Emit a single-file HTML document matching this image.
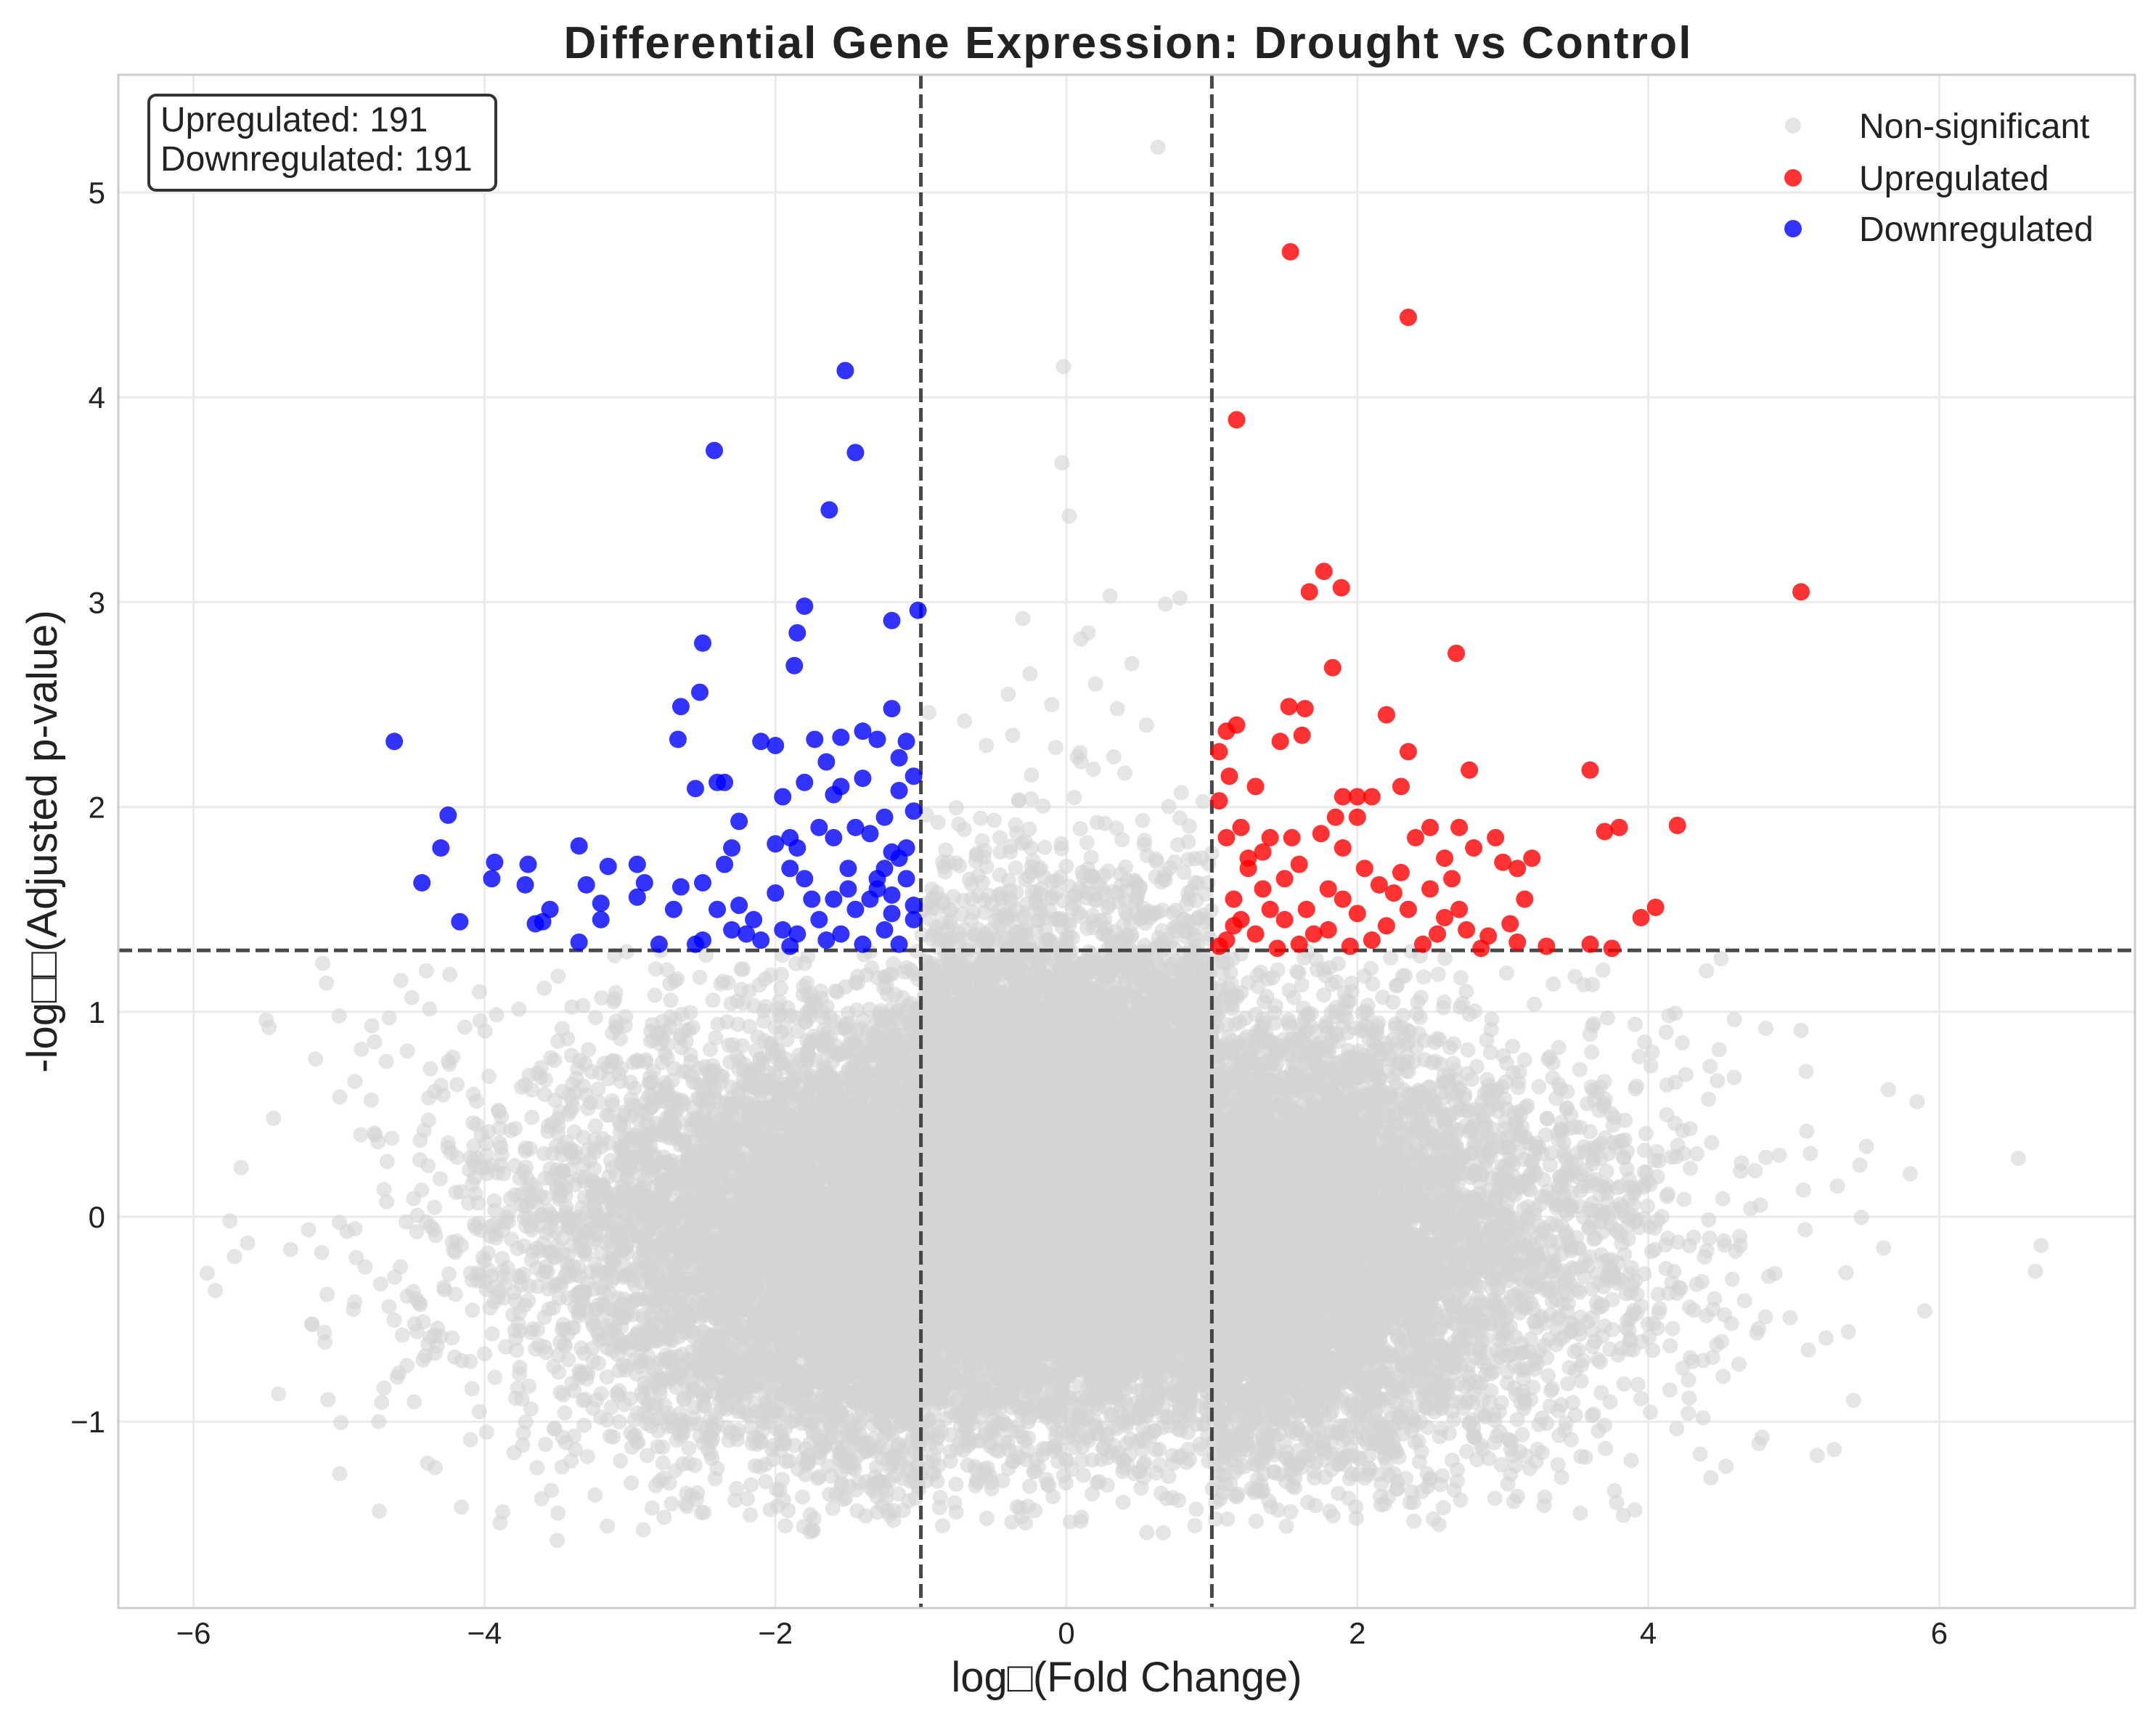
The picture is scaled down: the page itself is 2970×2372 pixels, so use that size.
<!DOCTYPE html>
<html><head><meta charset="utf-8"><style>
html,body{margin:0;padding:0;background:#fff;}
svg{display:block;font-family:"Liberation Sans","DejaVu Sans",sans-serif;}
</style></head><body>
<svg id="chart" width="2970" height="2372" viewBox="0 0 2970 2372" xmlns="http://www.w3.org/2000/svg">
<rect width="2970" height="2372" fill="#fff"/>
<g id="grid"></g>
<g id="grey"></g>
<g id="thresh"></g>
<g id="red"></g>
<g id="blue"></g>
<rect x="163" y="103" width="2778" height="2112" fill="none" stroke="#cccccc" stroke-width="3"/>
<g id="xticks"></g>
<g id="yticks"></g>
<text x="1553" y="80" text-anchor="middle" font-size="62" font-weight="bold" fill="#222" textLength="1553" lengthAdjust="spacing">Differential Gene Expression: Drought vs Control</text>
<text x="1552" y="2330" text-anchor="middle" font-size="58" fill="#222">log□(Fold Change)</text>
<text transform="translate(78,1159) rotate(-90)" text-anchor="middle" font-size="58" fill="#222">-log□□(Adjusted p-value)</text>
<g>
<rect x="205" y="131" width="478" height="131" rx="10" fill="#fff" stroke="#333" stroke-width="4"/>
<text x="221" y="181" font-size="48" fill="#222">Upregulated: 191</text>
<text x="221" y="235" font-size="48" fill="#222">Downregulated: 191</text>
</g>
<g>
<g><circle cx="2470" cy="173" r="11" fill="#d3d3d3" fill-opacity="0.6"/><text x="2561" y="190" font-size="48" fill="#222">Non-significant</text></g>
<g><circle cx="2470" cy="245" r="12" fill="red" fill-opacity="0.8"/><text x="2561" y="262" font-size="48" fill="#222">Upregulated</text></g>
<g><circle cx="2470" cy="315" r="12" fill="blue" fill-opacity="0.8"/><text x="2561" y="332" font-size="48" fill="#222">Downregulated</text></g>
</g>
</svg>
<script>
const xTicks=[-6,-4,-2,0,2,4,6];
const yTicks=[-1,0,1,2,3,4,5];
const fcThreshold=1;
const pThreshold=1.3;
const upX=[1.54,2.35,1.17,5.05,1.77,1.89,1.67,2.68,1.83,1.53,1.64,2.2,1.17,1.1,1.62,1.47,1.05,2.35,3.6,2.77,1.12,1.3,2.3,1.05,1.9,2.0,2.1,4.2,3.8,3.7,2.95,2.7,2.5,1.2,1.4,1.55,1.75,2.4,2.8,1.1,1.9,2.6,3.2,3.0,3.1,1.25,1.6,2.05,2.3,1.5,1.35,2.15,1.8,2.5,1.15,3.15,1.9,4.05,1.4,2.7,2.35,1.65,2.0,3.95,2.6,1.2,1.5,3.05,2.2,1.8,2.75,1.3,2.9,1.1,3.3,3.6,3.75,1.05,2.45,1.6,2.1,1.95,2.85,1.45,3.1,1.7,2.55,1.25,1.85,2.25,1.35,2.0,1.15,2.65];
const upY=[4.71,4.39,3.89,3.05,3.15,3.07,3.05,2.75,2.68,2.49,2.48,2.45,2.4,2.37,2.35,2.32,2.27,2.27,2.18,2.18,2.15,2.1,2.1,2.03,2.05,2.05,2.05,1.91,1.9,1.88,1.85,1.9,1.9,1.9,1.85,1.85,1.87,1.85,1.8,1.85,1.8,1.75,1.75,1.73,1.7,1.7,1.72,1.7,1.68,1.65,1.6,1.62,1.6,1.6,1.55,1.55,1.55,1.51,1.5,1.5,1.5,1.5,1.48,1.46,1.46,1.45,1.45,1.43,1.42,1.4,1.4,1.38,1.37,1.35,1.32,1.33,1.31,1.32,1.33,1.33,1.35,1.32,1.31,1.31,1.34,1.38,1.38,1.75,1.95,1.58,1.78,1.95,1.42,1.65];
const downX=[-1.52,-2.42,-1.45,-1.63,-1.8,-1.02,-1.2,-1.85,-2.5,-1.87,-2.52,-2.65,-1.2,-4.62,-2.67,-2.1,-2.0,-1.73,-1.55,-1.4,-1.3,-1.1,-1.65,-1.15,-2.4,-2.35,-1.8,-2.55,-1.55,-1.6,-1.4,-1.05,-1.15,-1.95,-4.25,-1.7,-2.25,-1.25,-1.45,-1.05,-4.3,-3.35,-2.0,-1.9,-1.6,-1.35,-2.3,-1.85,-1.2,-1.1,-3.93,-3.7,-2.95,-3.15,-1.25,-1.5,-1.9,-2.35,-3.95,-3.72,-2.9,-2.65,-2.5,-1.8,-1.3,-1.1,-4.43,-3.3,-3.55,-3.6,-3.65,-4.17,-2.95,-3.2,-2.0,-2.7,-2.25,-1.6,-1.35,-1.2,-1.05,-3.2,-2.4,-2.15,-1.7,-1.05,-1.45,-2.3,-1.95,-1.55,-1.25,-3.35,-2.8,-2.5,-2.1,-1.65,-1.15,-1.4,-1.9,-2.55,-1.85,-2.2,-1.15,-1.3,-1.5,-1.75,-1.2];
const downY=[4.13,3.74,3.73,3.45,2.98,2.96,2.91,2.85,2.8,2.69,2.56,2.49,2.48,2.32,2.33,2.32,2.3,2.33,2.34,2.37,2.33,2.32,2.22,2.24,2.12,2.12,2.12,2.09,2.1,2.06,2.14,2.15,2.08,2.05,1.96,1.9,1.93,1.95,1.9,1.98,1.8,1.81,1.82,1.85,1.85,1.87,1.8,1.8,1.78,1.8,1.73,1.72,1.72,1.71,1.7,1.7,1.7,1.72,1.65,1.62,1.63,1.61,1.63,1.65,1.65,1.65,1.63,1.62,1.5,1.44,1.43,1.44,1.56,1.53,1.58,1.5,1.52,1.55,1.55,1.57,1.52,1.45,1.5,1.45,1.45,1.45,1.5,1.4,1.4,1.38,1.4,1.34,1.33,1.35,1.35,1.35,1.33,1.33,1.32,1.33,1.38,1.38,1.75,1.6,1.6,1.55,1.48];
const outX=[0.63,-0.02,-0.03,0.02,0.3,0.78,0.68,-0.3,0.15,0.1,-0.25,0.45,-0.1,6.7,5.9,5.8,5.3,-5.85,-5.75,-5.45,-5.5,-5.0,-4.85,-4.75,4.9,5.1,5.05,-4.4,-4.5,4.4,4.5,-3.5,0.2,-0.4,0.35,-0.7,0.55,-0.55];
const outY=[5.22,4.15,3.68,3.42,3.03,3.02,2.99,2.92,2.85,2.82,2.65,2.7,2.5,-0.14,-0.46,0.21,0.15,-0.36,-0.02,0.48,0.96,0.98,0.4,0.4,0.3,-0.65,0.91,1.2,1.07,1.2,1.26,-1.58,2.6,2.55,2.48,2.42,2.4,2.3];

const X0=1469, XS=200.4, Y0=1676, YS=282.2;
function sx(v){return X0+v*XS;}
function sy(v){return Y0-v*YS;}
const NS='http://www.w3.org/2000/svg';
function mk(tag,attrs,parent){const e=document.createElementNS(NS,tag);for(const k in attrs)e.setAttribute(k,attrs[k]);parent.appendChild(e);return e;}

const grid=document.getElementById('grid');
const xt=document.getElementById('xticks');
const yt=document.getElementById('yticks');
xTicks.forEach(t=>{
  const l=mk('line',{x1:sx(t),x2:sx(t),y1:103,y2:2215,stroke:'#ebebeb','stroke-width':3},grid);
  
  
  const tx=mk('text',{x:sx(t),y:2264,'text-anchor':'middle','font-size':42,fill:'#222'},xt);
  tx.textContent=(t<0?'\u2212'+(-t):t);
  
  
});
yTicks.forEach(t=>{
  const l=mk('line',{x1:163,x2:2941,y1:sy(t),y2:sy(t),stroke:'#ebebeb','stroke-width':3},grid);
  
  
  const tx=mk('text',{x:145,y:sy(t)+15,'text-anchor':'end','font-size':42,fill:'#222'},yt);
  tx.textContent=(t<0?'\u2212'+(-t):t);
  
  
});

// background non-significant cloud (seeded sampling of the dense region)
const grey=document.getElementById('grey');
let seed=123456789;
function rnd(){seed|=0;seed=seed+0x6D2B79F5|0;let t=Math.imul(seed^seed>>>15,1|seed);t=t+Math.imul(t^t>>>7,61|t)^t;return((t^t>>>14)>>>0)/4294967296;}
function gauss(){let u=rnd()||1e-9,v=rnd();return Math.sqrt(-2*Math.log(u))*Math.cos(2*Math.PI*v);}
let frag='';
for(let i=0;i<24000;i++){
  let x=gauss()*1.6, y=gauss()*0.55-0.12;
  if(Math.abs(x)<1) y+=Math.abs(gauss())*0.4;
  if(y<-1.55) continue;
  if(Math.abs(x)>=fcThreshold && y>=pThreshold) continue;
  if(Math.abs(x)<fcThreshold && y>2.5) continue;
  frag+='<circle cx="'+sx(x).toFixed(1)+'" cy="'+sy(y).toFixed(1)+'" r="10.5"/>';
}
grey.setAttribute('fill','#d3d3d3');
grey.setAttribute('fill-opacity','0.6');
grey.innerHTML=frag;
outX.forEach((x,i)=>{
  const c=mk('circle',{cx:sx(x),cy:sy(outY[i]),r:10.5},grey);
  
  
});

const th=document.getElementById('thresh');
[-fcThreshold,fcThreshold].forEach(v=>{
  const l=mk('line',{x1:sx(v),x2:sx(v),y1:103,y2:2215,stroke:'#333','stroke-opacity':0.9,'stroke-width':5,'stroke-dasharray':'19 8'},th);
  
  
});
const hl=mk('line',{x1:163,x2:2941,y1:sy(pThreshold),y2:sy(pThreshold),stroke:'#333','stroke-opacity':0.9,'stroke-width':5,'stroke-dasharray':'19 8'},th);



const red=document.getElementById('red');
upX.forEach((x,i)=>{
  const c=mk('circle',{cx:sx(x),cy:sy(upY[i]),r:12,fill:'red','fill-opacity':0.8},red);
  
  
});
const blue=document.getElementById('blue');
downX.forEach((x,i)=>{
  const c=mk('circle',{cx:sx(x),cy:sy(downY[i]),r:12,fill:'blue','fill-opacity':0.8},blue);
  
  
});
</script>
</body></html>
